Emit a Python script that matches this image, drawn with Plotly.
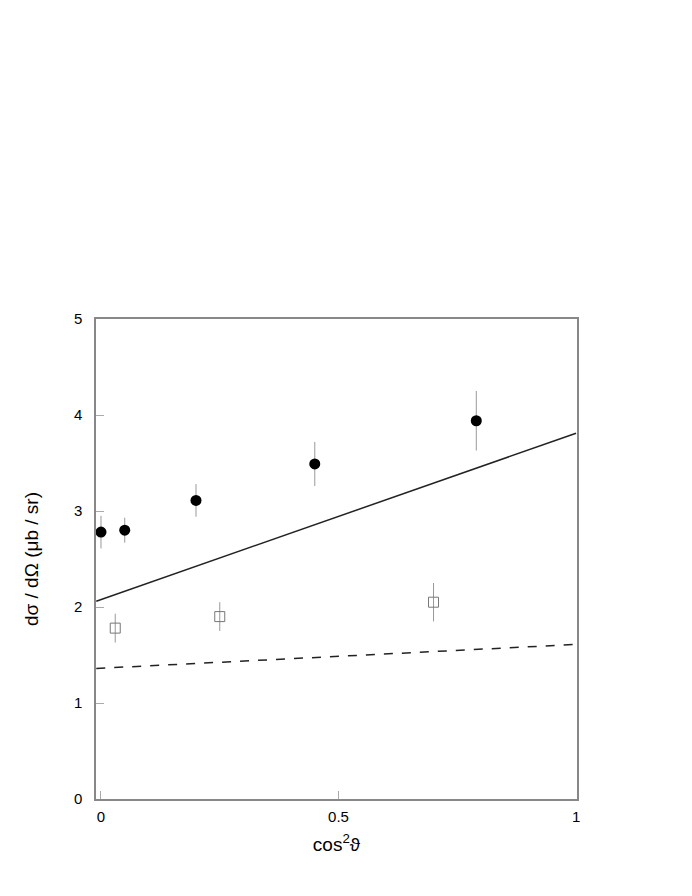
import plotly.graph_objects as go

# filled circles
circ_x = [0.0, 0.05, 0.2, 0.45, 0.79]
circ_y = [2.78, 2.80, 3.11, 3.49, 3.94]
circ_err = [0.17, 0.13, 0.17, 0.23, 0.31]

# open squares
sq_x = [0.03, 0.25, 0.70]
sq_y = [1.78, 1.90, 2.05]
sq_err = [0.15, 0.15, 0.20]

# model curves
line_x = [-0.01, 1.0]
solid_y = [2.06, 3.81]
dashed_y = [1.36, 1.61]

fig = go.Figure()

fig.add_trace(go.Scatter(
    x=line_x, y=solid_y, mode="lines",
    line=dict(color="#222222", width=1.5),
))
fig.add_trace(go.Scatter(
    x=line_x, y=dashed_y, mode="lines",
    line=dict(color="#222222", width=1.5, dash="dash"),
))
fig.add_trace(go.Scatter(
    x=sq_x, y=sq_y, mode="markers",
    error_y=dict(type="data", array=sq_err, color="#999999", thickness=1, width=0),
    marker=dict(symbol="square-open", size=10, color="#777777", line=dict(width=1)),
))
fig.add_trace(go.Scatter(
    x=circ_x, y=circ_y, mode="markers",
    error_y=dict(type="data", array=circ_err, color="#999999", thickness=1, width=0),
    marker=dict(symbol="circle", size=11, color="black"),
))

axis_common = dict(
    showline=True, mirror=True, linecolor="#888888", linewidth=1.5,
    showgrid=False, zeroline=False, automargin=False,
    ticks="inside", tickcolor="#aaaaaa", ticklen=8, tickwidth=1,
    tickfont=dict(family="Liberation Sans, Arial", size=15, color="black"),
)

fig.update_xaxes(
    range=[-0.0105, 1.002], tickvals=[0, 0.5, 1], ticktext=["0", "0.5", "1"],
    ticklabelstandoff=3,
    title=dict(text="cos<sup>2</sup>ϑ", font=dict(family="Liberation Sans, Arial", size=19, color="black"), standoff=14),
    **axis_common,
)
fig.update_yaxes(
    range=[0, 5], tickvals=[0, 1, 2, 3, 4, 5],
    ticklabelstandoff=9,
    title=dict(text="dσ / dΩ (μb / sr)", font=dict(family="Liberation Sans, Arial", size=19, color="black"), standoff=30),
    **axis_common,
)

fig.update_layout(
    width=692, height=896,
    margin=dict(l=88, r=123, t=311, b=105),
    plot_bgcolor="white", paper_bgcolor="white",
    showlegend=False,
)

fig.write_html("out.html")
